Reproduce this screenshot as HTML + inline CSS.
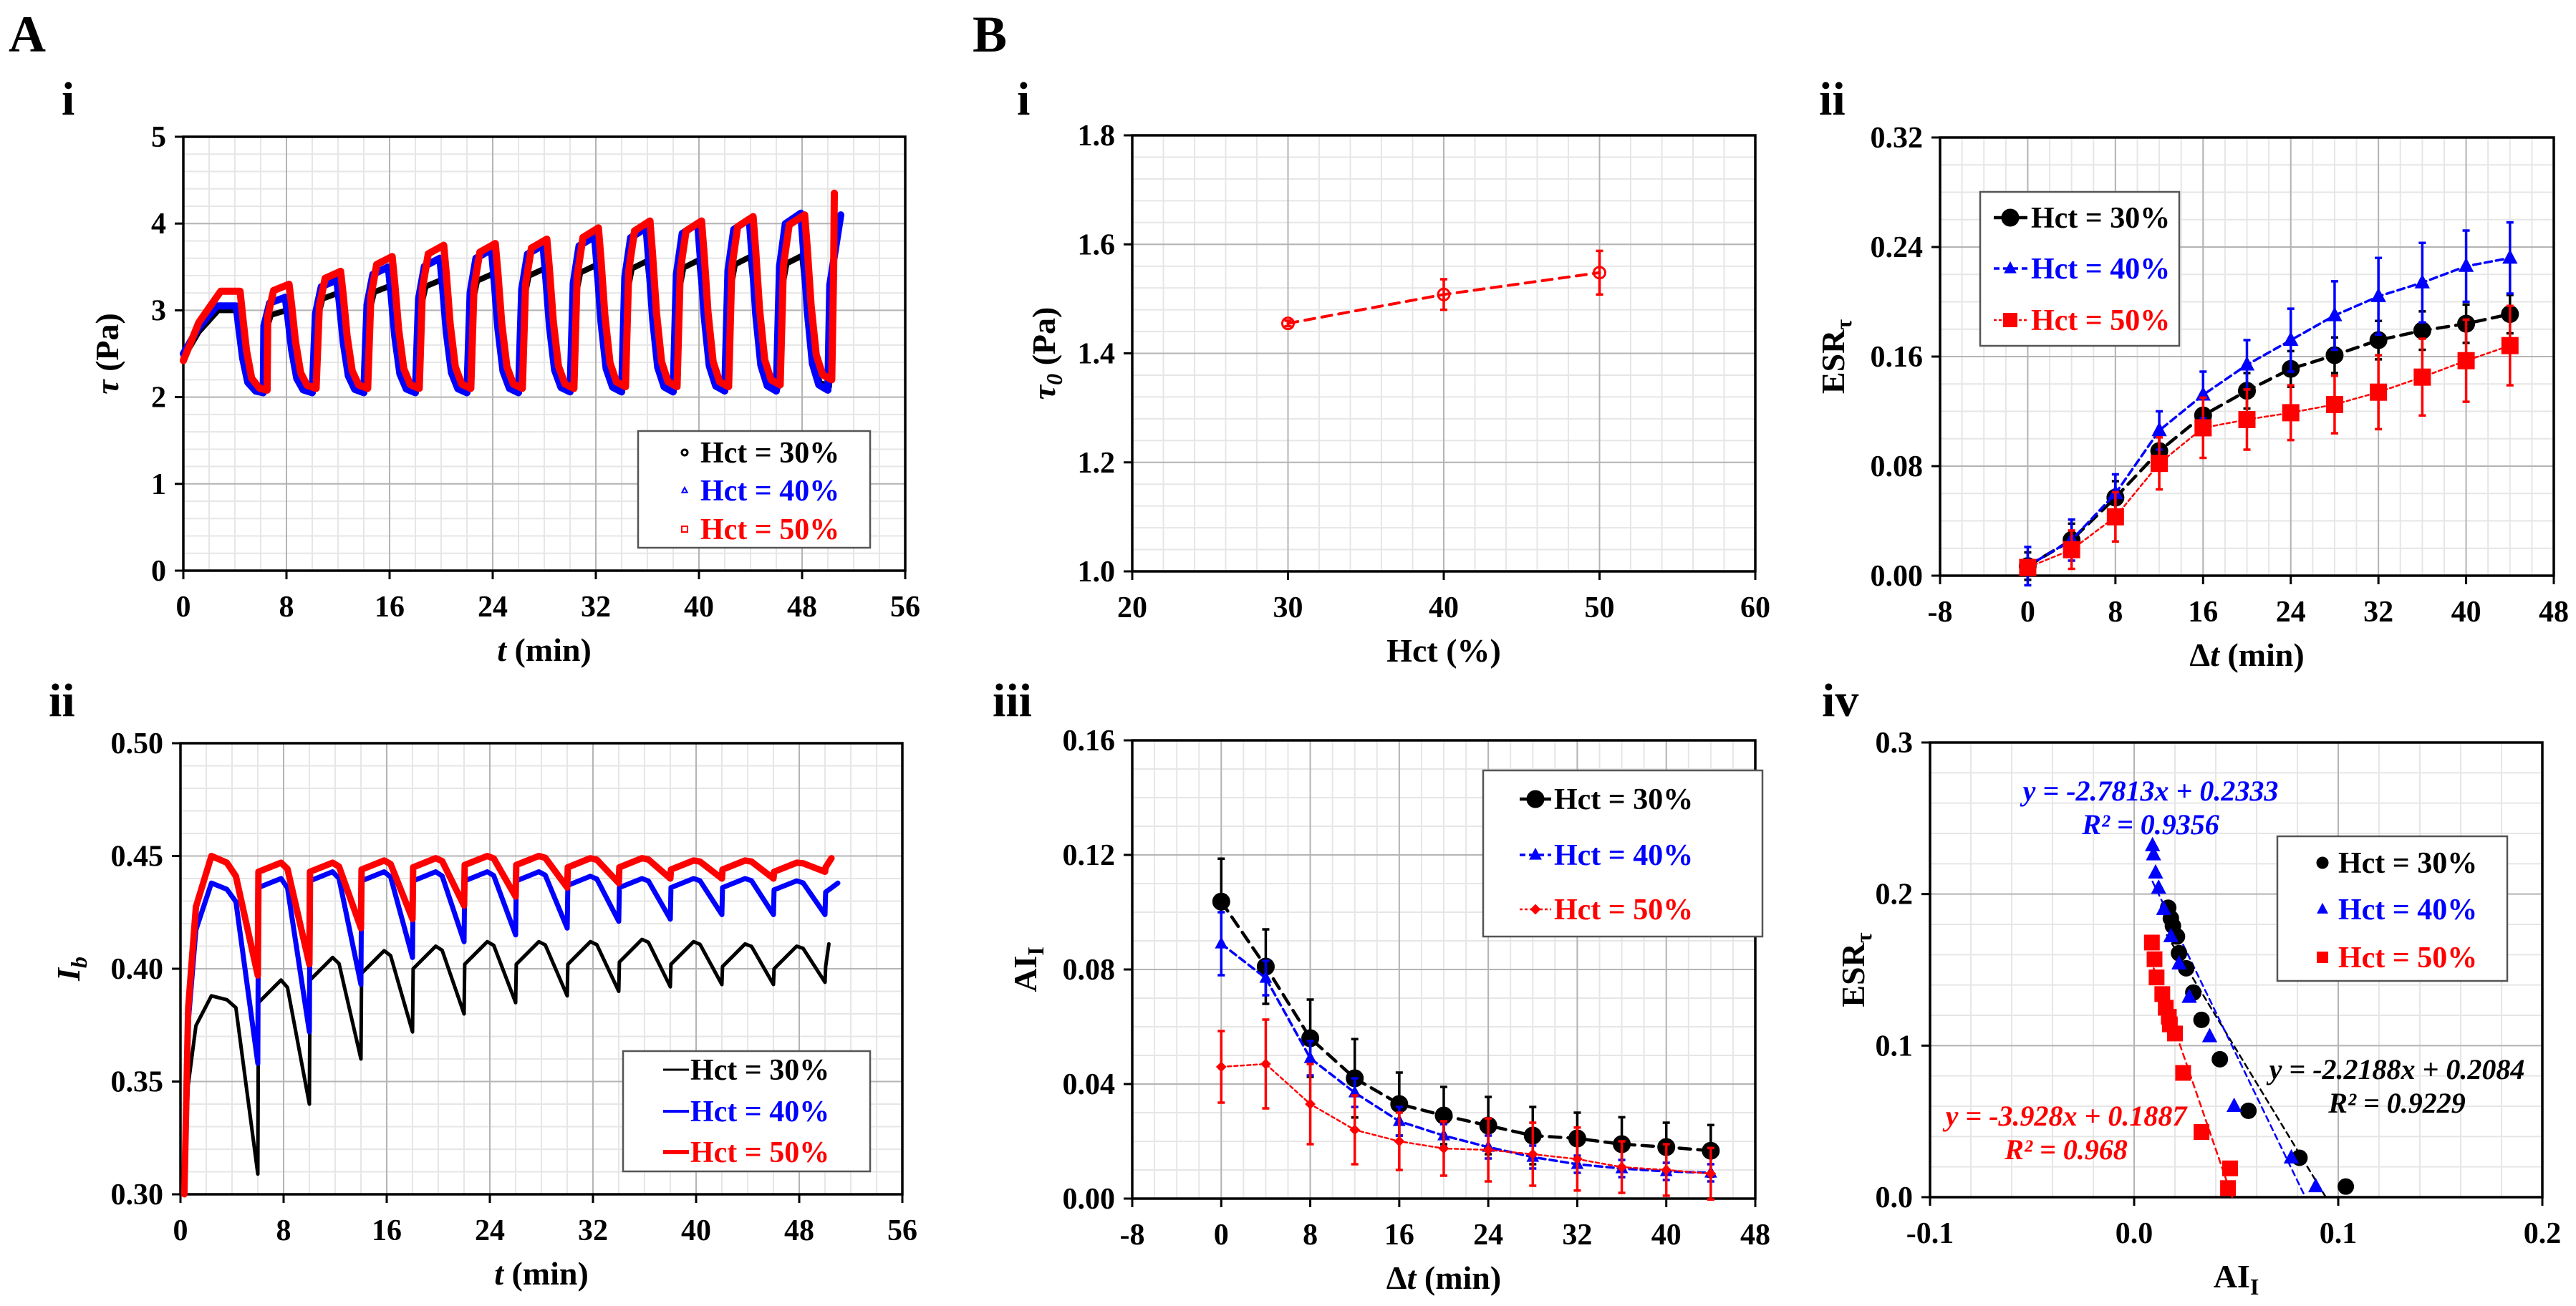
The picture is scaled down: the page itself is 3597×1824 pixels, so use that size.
<!DOCTYPE html>
<html><head><meta charset="utf-8"><title>Hct figure</title>
<style>
html,body{margin:0;padding:0;background:#fff;}
svg{display:block;font-family:"Liberation Serif","Times New Roman",serif;font-weight:bold;}
</style></head>
<body>
<svg id="fig" xmlns="http://www.w3.org/2000/svg" width="3597" height="1824" viewBox="0 0 3597 1824">
<rect x="0" y="0" width="3597" height="1824" fill="#fff"/>
</svg>
<script>
// ---------- Panel A-i data (tau vs t) ----------
const tauCycleStart = [0,6,10,14,18,22,26,30,34,38,42,46,50];
const tauPeak30 = [3.0,3.0,3.2,3.28,3.35,3.42,3.48,3.52,3.57,3.58,3.62,3.63,3.5];
const tauPeak40 = [3.05,3.15,3.35,3.5,3.6,3.7,3.75,3.85,3.95,4.0,4.05,4.12,4.1];
const tauPeak50 = [3.22,3.3,3.45,3.62,3.75,3.77,3.82,3.95,4.03,4.03,4.08,4.1,4.35];
const tauTrough30 = [2.1,2.1,2.1,2.1,2.1,2.1,2.1,2.1,2.1,2.1,2.1,2.12];
const tauTrough40 = [2.05,2.05,2.05,2.05,2.05,2.05,2.06,2.06,2.06,2.07,2.07,2.08];
const tauTrough50 = [2.08,2.1,2.1,2.1,2.1,2.1,2.1,2.12,2.12,2.12,2.14,2.2];
const tauInitial = [2.45,2.5,2.42];
const tauEnd = [50.5,51,50.5];
const aiXTicks = [0,8,16,24,32,40,48,56];
const aiYTicks = [0,1,2,3,4,5];
const aiYLabels = ["0","1","2","3","4","5"];

// ---------- Panel A-ii data (Ib vs t) ----------
const ibCycleStart = [0,6,10,14,18,22,26,30,34,38,42,46,50];
const ib30Peak = [0.388,0.395,0.405,0.408,0.41,0.412,0.412,0.412,0.413,0.412,0.411,0.41,0.411];
const ib30Trough = [0.309,0.34,0.36,0.372,0.38,0.385,0.388,0.39,0.392,0.393,0.393,0.394];
const ib40Peak = [0.438,0.44,0.443,0.443,0.443,0.443,0.443,0.441,0.44,0.44,0.44,0.439,0.438];
const ib40Trough = [0.358,0.372,0.393,0.405,0.412,0.415,0.418,0.421,0.422,0.424,0.424,0.424];
const ib50Peak = [0.45,0.447,0.447,0.448,0.449,0.45,0.45,0.449,0.449,0.448,0.448,0.447,0.449];
const ib50Trough = [0.397,0.402,0.418,0.422,0.428,0.432,0.436,0.438,0.44,0.44,0.44,0.443];
const ibEnd = [50.3,51,50.5];
const aiiYTicks = [0.30,0.35,0.40,0.45,0.50];
const aiiYLabels = ["0.30","0.35","0.40","0.45","0.50"];

// ---------- Panel B-i data ----------
const hct = [30,40,50];
const tau0 = [1.455,1.508,1.548];
const tau0Err = [0.005,0.028,0.04];
const biXTicks = [20,30,40,50,60];
const biYTicks = [1.0,1.2,1.4,1.6,1.8];
const biYLabels = ["1.0","1.2","1.4","1.6","1.8"];

// ---------- Panels B-ii / B-iii data ----------
const dt = [0,4,8,12,16,20,24,28,32,36,40,44];
const esr30 = [0.007,0.026,0.057,0.091,0.117,0.135,0.151,0.161,0.172,0.179,0.184,0.191];
const esr30Err = [0.01,0.012,0.012,0.013,0.013,0.013,0.013,0.013,0.014,0.014,0.014,0.014];
const esr40 = [0.007,0.026,0.060,0.106,0.132,0.154,0.172,0.190,0.204,0.214,0.226,0.232];
const esr40Err = [0.014,0.015,0.014,0.014,0.017,0.018,0.023,0.025,0.028,0.029,0.026,0.026];
const esr50 = [0.006,0.019,0.043,0.082,0.108,0.114,0.119,0.125,0.134,0.145,0.157,0.168];
const esr50Err = [0.005,0.014,0.018,0.019,0.022,0.022,0.02,0.021,0.027,0.028,0.03,0.029];
const ai30 = [0.1037,0.081,0.056,0.042,0.033,0.029,0.0255,0.022,0.021,0.019,0.018,0.0167];
const ai30Err = [0.015,0.013,0.0135,0.0137,0.011,0.010,0.010,0.010,0.009,0.0094,0.0085,0.009];
const ai40 = [0.089,0.077,0.049,0.037,0.027,0.022,0.018,0.0145,0.012,0.0105,0.0095,0.009];
const ai40Err = [0.011,0.006,0.006,0.005,0.005,0.004,0.004,0.004,0.003,0.003,0.003,0.003];
const ai50 = [0.046,0.047,0.033,0.024,0.020,0.0175,0.017,0.0155,0.0138,0.011,0.010,0.0087];
const ai50Err = [0.0125,0.0155,0.014,0.012,0.010,0.0095,0.011,0.011,0.011,0.009,0.009,0.009];
const dtXTicks = [-8,0,8,16,24,32,40,48];
const biiYTicks = [0,0.08,0.16,0.24,0.32];
const biiYLabels = ["0.00","0.08","0.16","0.24","0.32"];
const biiiYTicks = [0,0.04,0.08,0.12,0.16];
const biiiYLabels = ["0.00","0.04","0.08","0.12","0.16"];

// ---------- Panel B-iv fits ----------
const fitSlope = [-2.2188,-2.7813,-3.928];
const fitIntercept = [0.2084,0.2333,0.1887];
const fitFrom = [0.016,0.009,0.008];
const fitTo = [0.094,0.0839,0.048];
const bivXTicks = [-0.1,0.0,0.1,0.2];
const bivXLabels = ["-0.1","0.0","0.1","0.2"];
const bivYTicks = [0,0.1,0.2,0.3];
const bivYLabels = ["0.0","0.1","0.2","0.3"];

const NS = 'http://www.w3.org/2000/svg';
const svg = document.getElementById('fig');
function el(tag, parent){const e=document.createElementNS(NS,tag);parent.appendChild(e);return e;}
function set(e,a){for(const k in a)e.setAttribute(k,a[k]);return e;}
const BLK='#000', BLU='#0000ff', RED='#ff0000';

const P = {
  ai:{x0:256,x1:1264,y0:191,y1:797,xmin:0,xmax:56,ymin:0,ymax:5},
  aii:{x0:252,x1:1260,y0:1038,y1:1668,xmin:0,xmax:56,ymin:0.3,ymax:0.5},
  bi:{x0:1581,x1:2451,y0:189,y1:798,xmin:20,xmax:60,ymin:1,ymax:1.8},
  bii:{x0:2709,x1:3566,y0:192,y1:804,xmin:-8,xmax:48,ymin:0,ymax:0.32},
  biii:{x0:1581,x1:2451,y0:1034,y1:1674,xmin:-8,xmax:48,ymin:0,ymax:0.16},
  biv:{x0:2695,x1:3550,y0:1037,y1:1672,xmin:-0.1,xmax:0.2,ymin:0,ymax:0.3}
};
function X(p,v){return p.x0+(v-p.xmin)/(p.xmax-p.xmin)*(p.x1-p.x0);}
function Y(p,v){return p.y1-(v-p.ymin)/(p.ymax-p.ymin)*(p.y1-p.y0);}

function axes(name,p,c){
  const g=el('g',svg);
  
  
  const eps=1e-9;
  for(let v=p.xmin;v<=p.xmax+eps;v+=c.xMinor){const l=set(el('line',g),{x1:X(p,v),x2:X(p,v),y1:p.y0,y2:p.y1,stroke:'#e6e6e6','stroke-width':2});
    }
  for(let v=p.ymin;v<=p.ymax+eps;v+=c.yMinor){const l=set(el('line',g),{x1:p.x0,x2:p.x1,y1:Y(p,v),y2:Y(p,v),stroke:'#e6e6e6','stroke-width':2});
    }
  c.xTicks.forEach((v,i)=>{
    const l=set(el('line',g),{x1:X(p,v),x2:X(p,v),y1:p.y0,y2:p.y1,stroke:'#b4b4b4','stroke-width':2});
    
    const t=set(el('line',g),{x1:X(p,v),x2:X(p,v),y1:p.y1,y2:p.y1+12,stroke:'#000','stroke-width':3});
    
    const tx=set(el('text',g),{x:X(p,v),y:p.y1+64,'text-anchor':'middle','font-size':42});
    tx.textContent=c.xLabels?c.xLabels[i]:String(v);
    
  });
  c.yTicks.forEach((v,i)=>{
    const l=set(el('line',g),{x1:p.x0,x2:p.x1,y1:Y(p,v),y2:Y(p,v),stroke:'#b4b4b4','stroke-width':2});
    
    const t=set(el('line',g),{x1:p.x0-12,x2:p.x0,y1:Y(p,v),y2:Y(p,v),stroke:'#000','stroke-width':3});
    
    const tx=set(el('text',g),{x:p.x0-24,y:Y(p,v)+14,'text-anchor':'end','font-size':42});
    tx.textContent=c.yLabels[i];
    
  });
  const fr=set(el('rect',g),{x:p.x0,y:p.y0,width:p.x1-p.x0,height:p.y1-p.y0,fill:'none',stroke:'#000','stroke-width':3.5});
  
  const xt=set(el('text',g),{x:(p.x0+p.x1)/2,y:p.y1+126,'text-anchor':'middle','font-size':46});
  xt.innerHTML=c.xTitle;
  
  const yx=c.yTitleX, yy=(p.y0+p.y1)/2;
  const yt=set(el('text',g),{x:yx,y:yy+15,'text-anchor':'middle','font-size':46,transform:`rotate(-90 ${yx} ${yy})`});
  yt.innerHTML=c.yTitle;
  
  return g;
}
function path(g,p,pts,color,w,dash,name){
  const d=pts.map((q,i)=>(i?'L':'M')+X(p,q[0]).toFixed(1)+' '+Y(p,q[1]).toFixed(1)).join(' ');
  const e=set(el('path',g),{d:d,fill:'none',stroke:color,'stroke-width':w,'stroke-linejoin':'round','stroke-linecap':'round'});
  if(dash)e.setAttribute('stroke-dasharray',dash);
  
  
  return e;
}
function marker(g,type,x,y,s,color,fill,name){
  let e;
  if(type==='c'){e=set(el('circle',g),{cx:x,cy:y,r:s,fill:fill,stroke:color,'stroke-width':3});}
  else if(type==='t'){e=set(el('polygon',g),{points:`${x},${y-s} ${x-s*0.9},${y+s*0.7} ${x+s*0.9},${y+s*0.7}`,fill:fill,stroke:color,'stroke-width':2});}
  else if(type==='s'){e=set(el('rect',g),{x:x-s,y:y-s,width:2*s,height:2*s,fill:fill,stroke:color,'stroke-width':2});}
  else {e=set(el('polygon',g),{points:`${x},${y-s} ${x+s},${y} ${x},${y+s} ${x-s},${y}`,fill:fill,stroke:color,'stroke-width':2});}
  
  
}
function errbar(g,p,x,y,e,color,name){
  const px=X(p,x),a=Y(p,y+e),b=Y(p,y-e);
  const l=set(el('path',g),{d:`M${px} ${a} L${px} ${b} M${px-5} ${a} L${px+5} ${a} M${px-5} ${b} L${px+5} ${b}`,stroke:color,'stroke-width':3.5,fill:'none'});
  
  
}
function label(txt,x,y,size,name,extra){
  const t=set(el('text',svg),Object.assign({x:x,y:y,'font-size':size},extra||{}));
  t.innerHTML=txt;
  
  
  return t;
}
function legendBox(x,y,w,h,name){
  const r=set(el('rect',svg),{x:x,y:y,width:w,height:h,fill:'#fff',stroke:'#555','stroke-width':2.5});
  
  
}

// Panel letters
label('A',12,72,72,'panel-label-a');
label('B',1358,72,72,'panel-label-b');
label('i',86,160,66,'panel-label-a-i');
label('ii',68,1000,66,'panel-label-a-ii');
label('i',1420,160,66,'panel-label-b-i');
label('ii',2540,160,66,'panel-label-b-ii');
label('iii',1386,1000,66,'panel-label-b-iii');
label('iv',2544,1000,66,'panel-label-b-iv');

// ===== A-i =====
(function(){
  const p=P.ai;
  const g=axes('tau-vs-time',p,{xMinor:2,yMinor:0.2,xTicks:aiXTicks,yTicks:aiYTicks,yLabels:aiYLabels,
    xTitle:'<tspan font-style="italic">t</tspan> (min)',yTitle:'<tspan font-style="italic">τ</tspan> (Pa)',yTitleX:150});
  const series=[[tauPeak30,tauTrough30,BLK,0.1,8,'series-hct30'],[tauPeak40,tauTrough40,BLU,0,10,'series-hct40'],[tauPeak50,tauTrough50,RED,0.3,10,'series-hct50']];
  series.forEach((s,si)=>{
    const [pk,tr,col,sh,w,nm]=s; const pts=[];
    for(let k=0;k<tauCycleStart.length;k++){
      const p0=pk[k];
      if(k===0){
        const t0=tr[0],d=p0-t0;
        pts.push([0,tauInitial[si]],[1.2,tauInitial[si]+0.55*(p0-tauInitial[si])],[2.6+sh,p0],[4.1+sh,p0],[4.3+sh,p0-0.25*d],[4.6+sh,t0+0.4*d],[5.0+sh,t0+0.12*d],[5.6+sh,t0+0.02*d],[6.2+sh,t0]);
        continue;
      }
      const s0=tauCycleStart[k]+sh, prev=tr[k-1];
      if(k===tauCycleStart.length-1){
        pts.push([s0,prev],[s0+0.15,prev+0.6*(p0-prev)],[tauEnd[si],p0]);
        continue;
      }
      const t1=tr[k],d=p0-t1;
      pts.push([s0+0.25,prev+0.7*(p0-prev)],[s0+0.7,p0-0.06*d],[s0+1.9,p0],[s0+2.1,p0-0.2*d],[s0+2.4,t1+0.45*d],[s0+2.8,t1+0.15*d],[s0+3.3,t1+0.03*d],[s0+4,t1]);
    }
    path(g,p,pts,col,w,null,'tau-'+nm);
  });
  legendBox(891,602,324,163,'legend-tau');
  const rows=[[632,BLK,'Hct = 30%','c'],[685,BLU,'Hct = 40%','t'],[739,RED,'Hct = 50%','s']];
  rows.forEach(r=>{marker(svg,r[3],956,r[0],4,r[1],'#fff','legend-marker');
    label(r[2],978,r[0]+14,42,'legend-entry',{fill:r[1]});});
})();

// ===== A-ii =====
(function(){
  const p=P.aii;
  const g=axes('ib-vs-time',p,{xMinor:2,yMinor:0.01,xTicks:aiXTicks,yTicks:aiiYTicks,yLabels:aiiYLabels,
    xTitle:'<tspan font-style="italic">t</tspan> (min)',yTitle:'<tspan font-style="italic">I<tspan font-size="32" dy="10">b</tspan></tspan>',yTitleX:96});
  const series=[[ib30Peak,ib30Trough,BLK,0.01,5,'series-hct30'],[ib40Peak,ib40Trough,BLU,0.004,7,'series-hct40'],[ib50Peak,ib50Trough,RED,0.004,9,'series-hct50']];
  series.forEach((s,si)=>{
    const [pk,tr,col,jp,w,nm]=s; const pts=[];
    for(let k=0;k<ibCycleStart.length;k++){
      const p0=pk[k];
      if(k===0){
        const d=p0-0.3;
        pts.push([0.3,0.3],[0.6,0.3+0.55*d],[1.2,0.3+0.85*d],[2.4,p0],[3.6,p0-0.02*d],[4.3,p0-0.06*d],[6,tr[0]]);
        continue;
      }
      const s0=ibCycleStart[k];
      pts.push([s0+0.05,p0-jp]);
      if(k===ibCycleStart.length-1){pts.push([ibEnd[si],p0]);continue;}
      const t1=tr[k],d=p0-t1;
      pts.push([s0+1.8,p0],[s0+2.3,p0-0.06*d],[s0+4,t1]);
    }
    path(g,p,pts,col,w,null,'ib-'+nm);
  });
  legendBox(870,1468,345,168,'legend-ib');
  const rows=[[1494,BLK,'Hct = 30%',3],[1552,BLU,'Hct = 40%',4],[1609,RED,'Hct = 50%',6]];
  rows.forEach(r=>{
    const l=set(el('line',svg),{x1:926,x2:962,y1:r[0],y2:r[0],stroke:r[1],'stroke-width':r[3]});
    
    label(r[2],964,r[0]+14,42,'legend-entry',{fill:r[1]});});
})();

// ===== B-i =====
(function(){
  const p=P.bi;
  const g=axes('tau0-vs-hct',p,{xMinor:2,yMinor:0.04,xTicks:biXTicks,yTicks:biYTicks,yLabels:biYLabels,
    xTitle:'Hct (%)',yTitle:'<tspan font-style="italic">τ<tspan font-size="32" dy="10">0</tspan></tspan><tspan dy="-10"> (Pa)</tspan>',yTitleX:1458});
  path(g,p,hct.map((h,i)=>[h,tau0[i]]),RED,4,'14 10','tau0-line');
  hct.forEach((h,i)=>{errbar(g,p,h,tau0[i],tau0Err[i],RED,'tau0-errorbar');
    marker(g,'c',X(p,h),Y(p,tau0[i]),8,RED,'none','tau0-point');});
})();

// ===== B-ii =====
(function(){
  const p=P.bii;
  const g=axes('esr-vs-dt',p,{xMinor:2,yMinor:0.02,xTicks:dtXTicks,yTicks:biiYTicks,yLabels:biiYLabels,
    xTitle:'Δ<tspan font-style="italic">t</tspan> (min)',yTitle:'ESR<tspan font-size="32" dy="10">τ</tspan>',yTitleX:2560});
  const S=[[esr30,esr30Err,BLK,'c',11,4.5,'16 10','hct30'],[esr40,esr40Err,BLU,'t',10,3.5,'10 6','hct40'],[esr50,esr50Err,RED,'s',11,2.5,'5 4','hct50']];
  S.forEach(s=>{
    s[1].forEach((e,i)=>errbar(g,p,dt[i],s[0][i],e,s[2],'esr-errorbar-'+s[7]));
    path(g,p,dt.map((t,i)=>[t,s[0][i]]),s[2],s[5],s[6],'esr-line-'+s[7]);
    dt.forEach((t,i)=>marker(g,s[3],X(p,t),Y(p,s[0][i]),s[4],s[2],s[2],'esr-point-'+s[7]));
  });
  legendBox(2765,268,278,215,'legend-esr');
  const rows=[[304,BLK,'Hct = 30%','c',11,4.5,'none'],[375,BLU,'Hct = 40%','t',8,3.5,'8 5'],[447,RED,'Hct = 50%','s',9,2.5,'4 3']];
  rows.forEach(r=>{
    const l=set(el('line',svg),{x1:2784,x2:2831,y1:r[0],y2:r[0],stroke:r[1],'stroke-width':r[5]});
    if(r[6]!=='none')l.setAttribute('stroke-dasharray',r[6]);
    
    marker(svg,r[3],2807,r[0],r[4],r[1],r[1],'legend-marker');
    label(r[2],2836,r[0]+14,42,'legend-entry',{fill:r[1]});});
})();

// ===== B-iii =====
(function(){
  const p=P.biii;
  const g=axes('ai-vs-dt',p,{xMinor:2,yMinor:0.01,xTicks:dtXTicks,yTicks:biiiYTicks,yLabels:biiiYLabels,
    xTitle:'Δ<tspan font-style="italic">t</tspan> (min)',yTitle:'AI<tspan font-size="32" dy="10">I</tspan>',yTitleX:1432});
  const S=[[ai30,ai30Err,BLK,'c',11,4.5,'16 10','hct30'],[ai40,ai40Err,BLU,'t',8,3.5,'10 6','hct40'],[ai50,ai50Err,RED,'d',6,2.5,'5 4','hct50']];
  S.forEach(s=>{
    s[1].forEach((e,i)=>errbar(g,p,dt[i],s[0][i],e,s[2],'ai-errorbar-'+s[7]));
    path(g,p,dt.map((t,i)=>[t,s[0][i]]),s[2],s[5],s[6],'ai-line-'+s[7]);
    dt.forEach((t,i)=>marker(g,s[3],X(p,t),Y(p,s[0][i]),s[4],s[2],s[2],'ai-point-'+s[7]));
  });
  legendBox(2071,1076,390,232,'legend-ai');
  const rows=[[1116,BLK,'Hct = 30%','c',11,4.5,'none'],[1194,BLU,'Hct = 40%','t',8,3.5,'8 5'],[1270,RED,'Hct = 50%','d',6,2.5,'4 3']];
  rows.forEach(r=>{
    const l=set(el('line',svg),{x1:2122,x2:2166,y1:r[0],y2:r[0],stroke:r[1],'stroke-width':r[5]});
    if(r[6]!=='none')l.setAttribute('stroke-dasharray',r[6]);
    
    marker(svg,r[3],2144,r[0],r[4],r[1],r[1],'legend-marker');
    label(r[2],2170,r[0]+14,42,'legend-entry',{fill:r[1]});});
})();

// ===== B-iv =====
(function(){
  const p=P.biv;
  const g=axes('esr-vs-ai',p,{xMinor:0.02,yMinor:0.02,xTicks:bivXTicks,xLabels:bivXLabels,yTicks:bivYTicks,yLabels:bivYLabels,
    xTitle:'AI<tspan font-size="32" dy="10">I</tspan>',yTitle:'ESR<tspan font-size="32" dy="10">τ</tspan>',yTitleX:2588});
  const cols=[BLK,BLU,RED];
  fitSlope.forEach((m,i)=>{
    path(g,p,[[fitFrom[i],m*fitFrom[i]+fitIntercept[i]],[fitTo[i],m*fitTo[i]+fitIntercept[i]]],cols[i],2.5,'8 6','fit-line-'+i);
  });
  const S=[[ai30,esr30,BLK,'c',10,'hct30'],[ai40,esr40,BLU,'t',10,'hct40'],[ai50,esr50,RED,'s',10,'hct50']];
  S.forEach(s=>s[0].forEach((a,i)=>marker(g,s[3],X(p,a),Y(p,s[1][i]),s[4],s[2],s[2],'scatter-point-'+s[5])));
  label('y = -2.7813x + 0.2333',3003,1118,40,'fit-equation-hct40',{'text-anchor':'middle','font-style':'italic',fill:BLU});
  label('R² = 0.9356',3003,1165,40,'fit-r2-hct40',{'text-anchor':'middle','font-style':'italic',fill:BLU});
  label('y = -2.2188x + 0.2084',3347,1507,40,'fit-equation-hct30',{'text-anchor':'middle','font-style':'italic',fill:BLK});
  label('R² = 0.9229',3347,1554,40,'fit-r2-hct30',{'text-anchor':'middle','font-style':'italic',fill:BLK});
  label('y = -3.928x + 0.1887',2885,1572,40,'fit-equation-hct50',{'text-anchor':'middle','font-style':'italic',fill:RED});
  label('R² = 0.968',2885,1619,40,'fit-r2-hct50',{'text-anchor':'middle','font-style':'italic',fill:RED});
  legendBox(3180,1168,321,202,'legend-scatter');
  const rows=[[1205,BLK,'Hct = 30%','c',7],[1270,BLU,'Hct = 40%','t',7],[1337,RED,'Hct = 50%','s',7]];
  rows.forEach(r=>{marker(svg,r[3],3243,r[0],r[4],r[1],r[1],'legend-marker');
    label(r[2],3265,r[0]+14,42,'legend-entry',{fill:r[1]});});
})();
</script>
</body></html>
